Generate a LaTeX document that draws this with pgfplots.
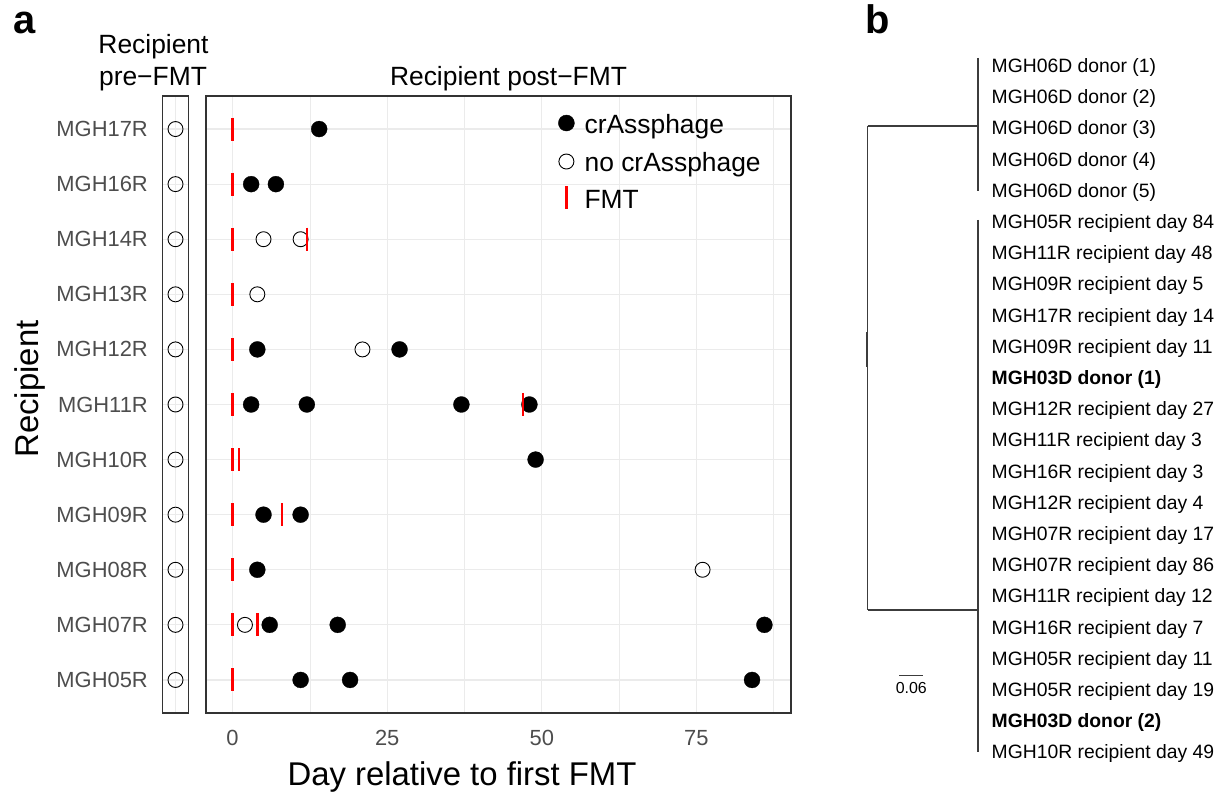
\documentclass[border=0pt]{standalone}
\usepackage{fontspec}
\setmainfont{Liberation Sans}
\usepackage{pgfplots}
\pgfplotsset{compat=1.18}
\definecolor{gridc}{RGB}{235,235,235}
\definecolor{ticktxt}{RGB}{77,77,77}
\definecolor{frame}{RGB}{51,51,51}
\definecolor{tree}{RGB}{60,60,60}
\pgfplotsset{
  panel/.style={
    scale only axis, height=617bp, ymin=0.4, ymax=11.6,
    axis line style={frame, line width=1.2bp},
    major tick length=0pt, minor tick length=0pt,
    tick style={draw=none},
    ytick={1,...,11},
    xmajorgrids=true, ymajorgrids=true,
    major grid style={gridc, line width=1.2bp},
    minor grid style={gridc, line width=0.6bp},
    /pgf/number format/assume math mode=true,
    ticklabel style={font=\fontsize{22}{26}\selectfont, text=ticktxt},
    clip=false,
  },
  fmt/.style={only marks, mark=|, mark size=11.5bp, mark options={red, line width=2.5bp}},
  yes/.style={only marks, mark=*, mark size=8bp, mark options={fill=black, draw=black, line width=0.3bp}},
  no/.style={only marks, mark=o, mark size=7.5bp, mark options={draw=black, line width=0.9bp}},
}
\begin{document}
\begin{tikzpicture}
\useasboundingbox (0,0) rectangle (1221bp,792bp);

% ---------- pre-FMT panel ----------
\begin{axis}[panel, at={(162.5bp,79bp)}, anchor=south west, width=26bp,
  xmin=-1, xmax=1, xtick={0}, xticklabels={},
  yticklabels={MGH05R,MGH07R,MGH08R,MGH09R,MGH10R,MGH11R,MGH12R,MGH13R,MGH14R,MGH16R,MGH17R},
  yticklabel style={anchor=east, inner sep=0pt, xshift=-14.5bp}]
\addplot[no] coordinates {(0,1)(0,2)(0,3)(0,4)(0,5)(0,6)(0,7)(0,8)(0,9)(0,10)(0,11)};
\end{axis}

% ---------- post-FMT panel ----------
\begin{axis}[panel, at={(206bp,79bp)}, anchor=south west, width=585bp,
  xmin=-4.3, xmax=90.3, xtick={0,25,50,75}, xticklabels={0,25,50,75},
  minor xtick={12.5,37.5,62.5,87.5}, xminorgrids=true,
  yticklabels={},
  xticklabel style={anchor=north, inner sep=0pt, yshift=-17bp},
  legend style={draw=none, fill=none, inner sep=0pt, at={(0.6017,0.9784)}, anchor=north west,
    row sep=7.5bp, column sep=10bp, cells={anchor=base west},
    nodes={inner sep=0pt, text height=24bp, text depth=6bp, font=\fontsize{26.5}{30}\selectfont}}]
\addplot[yes, legend image code/.code={\fill[black] (0bp,10.5bp) circle (8bp);}] coordinates {
 (14,11) (3,10) (7,10) (4,7) (27,7) (3,6) (12,6) (37,6) (48,6) (49,5)
 (5,4) (11,4) (4,3) (6,2) (17,2) (86,2) (11,1) (19,1) (84,1)};
\addlegendentry{crAssphage}
\addplot[no, legend image code/.code={\draw[black, line width=0.9bp] (0bp,9.5bp) circle (7.5bp);}] coordinates {
 (5,9) (11,9) (4,8) (21,7) (76,3) (2,2)};
\addlegendentry{no crAssphage}
\addplot[fmt, legend image code/.code={\draw[red, line width=2.5bp] (0bp,0bp) -- (0bp,23bp);}] coordinates {
 (0,1) (0,2) (0,3) (0,4) (0,5) (0,6) (0,7) (0,8) (0,9) (0,10) (0,11)
 (12,9) (47,6) (1,5) (8,4) (4,2)};
\addlegendentry{FMT}
\end{axis}

% ---------- tree panel ----------
\begin{axis}[at={(850bp,0bp)}, anchor=south west, scale only axis, width=371bp, height=792bp,
  xmin=850, xmax=1221, ymin=0, ymax=792, y dir=reverse, hide axis, clip=false]
\addplot[tree, line width=1.1bp] coordinates {(978,58) (978,191)};
\addplot[tree, line width=1.1bp] coordinates {(867.7,126) (978,126)};
\addplot[tree, line width=1.1bp] coordinates {(978,220) (978,752)};
\addplot[tree, line width=1.1bp] coordinates {(867.7,610) (978,610)};
\addplot[tree, line width=1.1bp] coordinates {(867.7,126) (867.7,610)};
\addplot[tree, line width=1.1bp] coordinates {(866.6,332) (866.6,367)};
\addplot[tree, line width=1.0bp] coordinates {(899,675) (923,675)};
\end{axis}

% ---------- texts ----------
\node[anchor=base west, font=\bfseries\fontsize{40}{44}\selectfont] at (10bp,758bp) {a};
\node[anchor=base west, font=\bfseries\fontsize{40}{44}\selectfont] at (861.5bp,758.7bp) {b};
\node[anchor=base, font=\fontsize{26.5}{30}\selectfont] at (153.5bp,738bp) {Recipient};
\node[anchor=base, font=\fontsize{26.5}{30}\selectfont] at (153bp,706bp) {pre−FMT};
\node[anchor=base, font=\fontsize{26.5}{30}\selectfont] at (508.5bp,706.5bp) {Recipient post−FMT};
\node[anchor=base, font=\fontsize{33}{38}\selectfont] at (462bp,7bp) {Day relative to first FMT};
\node[anchor=base, rotate=90, font=\fontsize{33}{38}\selectfont] at (38.5bp,403bp) {Recipient};
\node[anchor=base, font=\fontsize{16}{19}\selectfont] at (911.3bp,98.7bp) {0.06};
\foreach \t [count=\i] in {{MGH06D donor (1)},{MGH06D donor (2)},{MGH06D donor (3)},{MGH06D donor (4)},{MGH06D donor (5)},
 {MGH05R recipient day 84},{MGH11R recipient day 48},{MGH09R recipient day 5},{MGH17R recipient day 14},{MGH09R recipient day 11},
 {\textbf{MGH03D donor (1)}},{MGH12R recipient day 27},{MGH11R recipient day 3},{MGH16R recipient day 3},{MGH12R recipient day 4},
 {MGH07R recipient day 17},{MGH07R recipient day 86},{MGH11R recipient day 12},{MGH16R recipient day 7},{MGH05R recipient day 11},
 {MGH05R recipient day 19},{\textbf{MGH03D donor (2)}},{MGH10R recipient day 49}}{
  \pgfmathsetmacro{\yy}{719.5-31.2*(\i-1)}
  \node[anchor=base west, inner sep=0pt, font=\fontsize{19.4}{23}\selectfont] at (991.5bp,\yy bp) {\t};
}
\end{tikzpicture}
\end{document}
